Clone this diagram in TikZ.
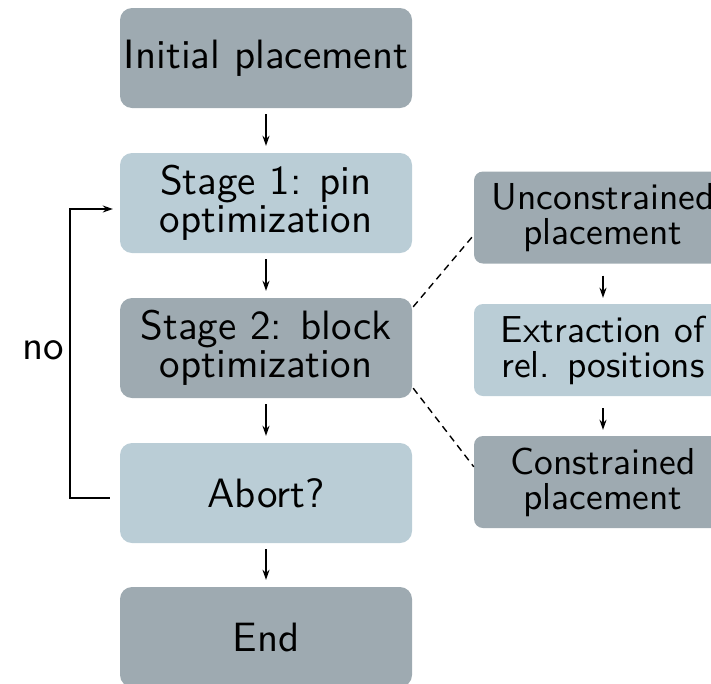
\documentclass[tikz,border=0pt]{standalone}
\usepackage{fontspec}
\setsansfont{lmsans10-regular.otf}
\usetikzlibrary{arrows.meta}
\definecolor{darkbox}{RGB}{158,170,177}
\definecolor{lightbox}{RGB}{186,205,214}
\begin{document}
\begin{tikzpicture}[x=1pt,y=-1pt,
  big/.style={rounded corners=12pt, minimum width=292pt, minimum height=100pt,
    align=center, inner sep=0pt, font=\sffamily\fontsize{41}{38}\selectfont},
  small/.style={rounded corners=9pt, minimum width=258pt, minimum height=92pt,
    align=center, inner sep=0pt, font=\sffamily\fontsize{37.5}{35}\selectfont},
  dk/.style={fill=darkbox},
  lt/.style={fill=lightbox},
  flow/.style={-{Stealth[length=10pt,width=7pt]}, line width=1.4pt},
  dashline/.style={line width=1.4pt, dash pattern=on 7pt off 5pt}]
\useasboundingbox (0,0) rectangle (711,683);
\node[big,dk] (init) at (266,58) {Initial placement};
\node[big,lt] (s1) at (266,203) {Stage 1: pin\\optimization};
\node[big,dk] (s2) at (266,348) {Stage 2: block\\optimization};
\node[big,lt] (abort) at (266,493) {Abort?};
\node[big,dk] (endn) at (266,637) {End};
\node[small,dk] (un) at (603,217.5) {Unconstrained\\placement};
\node[small,lt] (ex) at (603,350) {Extraction of\\rel. positions};
\node[small,dk] (co) at (603,482) {Constrained\\placement};
\begin{scope}[flow, shorten <=6pt, shorten >=7pt]
\draw (init) -- (s1);
\draw (s1) -- (s2);
\draw (s2) -- (abort);
\draw (abort) -- (endn);
\end{scope}
\begin{scope}[flow, shorten <=12pt, shorten >=6pt]
\draw (un) -- (ex);
\draw (ex) -- (co);
\end{scope}
\draw[flow, shorten <=10pt, shorten >=7pt] ([yshift=-5pt]abort.west) -- ++(-50,0) |- ([yshift=-6pt]s1.west);
\node[font=\sffamily\fontsize{41}{38}\selectfont, inner sep=0pt] (no) at (43,350) {no};
\coordinate (a1) at ([xshift=1pt,yshift=-9pt]s2.north east);
\coordinate (b1) at ([yshift=-17.5pt]un.west);
\coordinate (a2) at ([xshift=1pt,yshift=10pt]s2.south east);
\coordinate (b2) at ([yshift=-31pt]co.north west);
\draw[dashline] (a1) -- (b1);
\draw[dashline] (a2) -- (b2);
\end{tikzpicture}
\end{document}
